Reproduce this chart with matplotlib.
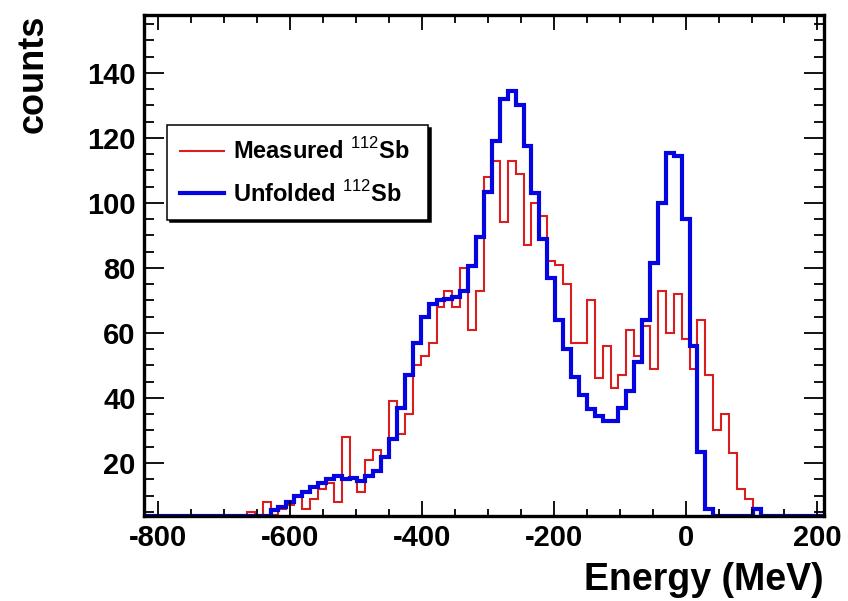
import numpy as np
import matplotlib.pyplot as plt
from matplotlib.ticker import MultipleLocator

plt.rcParams['font.family'] = 'Liberation Sans'
plt.rcParams['font.weight'] = 'bold'
plt.rcParams['axes.unicode_minus'] = False
plt.rcParams['mathtext.fontset'] = 'custom'
plt.rcParams['mathtext.rm'] = 'Liberation Sans:weight=normal'

# histogram binning (MeV)
bin_width = 12
e_low, e_high = -822, 210
first_edge = -666  # lower edge of the first listed bin

# counts per 12 MeV bin, starting at first_edge
measured = [5, 0, 8, 4, 6, 7, 10, 6, 9, 12,
            14, 8, 28, 15, 11, 21, 24, 22, 39, 29,
            35, 50, 53, 57, 68, 73, 68, 80, 61, 73,
            108, 113, 94, 113, 109, 87, 100, 96, 82, 81,
            75, 57, 57, 70, 46, 56, 43, 47, 61, 53,
            62, 49, 73, 60, 72, 58, 49, 64, 47, 30,
            35, 23, 12, 9, 0]
unfolded = [0, 0, 0, 5.5, 6.5, 8, 10, 11, 12.5, 14,
            15, 16, 15, 15.5, 14.5, 16, 17.5, 22, 27.5, 37,
            47, 57, 65, 69, 70, 70.5, 71, 73, 80.5, 89.5,
            103.5, 119, 132, 134.5, 130, 117.5, 103, 89, 77, 64,
            55, 46.5, 41, 36.5, 34.5, 33, 33, 37, 42, 51,
            64, 81.5, 100, 115.5, 114.5, 95, 56, 23.5, 6, 0,
            0, 0, 0, 0, 6]

labels = [r'Measured $^{112}$Sb', r'Unfolded $^{112}$Sb']
colors = ['#d81e1e', '#0505e0']
widths = [1.5, 3.0]

y_min, y_max = 3.7, 157.8


def full_hist(vals):
    '''Pad listed bins with zeros over the whole histogram range.'''
    n_bins = (e_high - e_low) // bin_width
    h = np.zeros(n_bins)
    i0 = (first_edge - e_low) // bin_width
    h[i0:i0 + len(vals)] = vals
    return h


edges = np.arange(e_low, e_high + bin_width, bin_width)

fig = plt.figure(figsize=(8.48, 6.01), dpi=100)
ax = fig.add_axes([144 / 848, 1 - 516 / 601, 680 / 848, 501 / 601])

for vals, lab, col, lw in zip([measured, unfolded], labels, colors, widths):
    h = full_hist(vals)
    # empty bins sit on the frame bottom like ROOT does
    ax.stairs(np.maximum(h, y_min), edges, baseline=y_min,
              color=col, lw=lw, label=lab)

ax.set_xlim(e_low, e_high)
ax.set_ylim(y_min, y_max)

ax.xaxis.set_major_locator(MultipleLocator(200))
ax.xaxis.set_minor_locator(MultipleLocator(50))
ax.yaxis.set_major_locator(MultipleLocator(20))
ax.yaxis.set_minor_locator(MultipleLocator(5))

ax.tick_params(axis='both', which='both', direction='in', top=True, right=True,
               width=1.3, colors='black', labelsize=21)
ax.tick_params(axis='x', which='major', length=10.8, pad=6)
ax.tick_params(axis='x', which='minor', length=5.4)
ax.tick_params(axis='y', which='major', length=14.4, pad=6)
ax.tick_params(axis='y', which='minor', length=7.2)
for sp in ax.spines.values():
    sp.set_linewidth(2.4)

ax.set_xlabel('Energy (MeV)', fontsize=27, fontweight='bold', ha='right', va='center')
ax.xaxis.set_label_coords(1.0, -0.128)
ax.set_ylabel('counts', fontsize=26, fontweight='bold', ha='right', va='center')
ax.yaxis.set_label_coords(-0.163, 1.0)

leg = ax.legend(loc='upper left', bbox_to_anchor=(0.034, 0.587, 0.384, 0.193),
                mode='expand', fontsize=17, fancybox=False, framealpha=1,
                edgecolor='black', borderpad=0.55, labelspacing=0.7,
                handlelength=1.86, handletextpad=0.4, borderaxespad=0,
                shadow={'color': 'black', 'alpha': 1})
leg.get_frame().set_linewidth(1.1)

fig.savefig('out.png', dpi=100)
